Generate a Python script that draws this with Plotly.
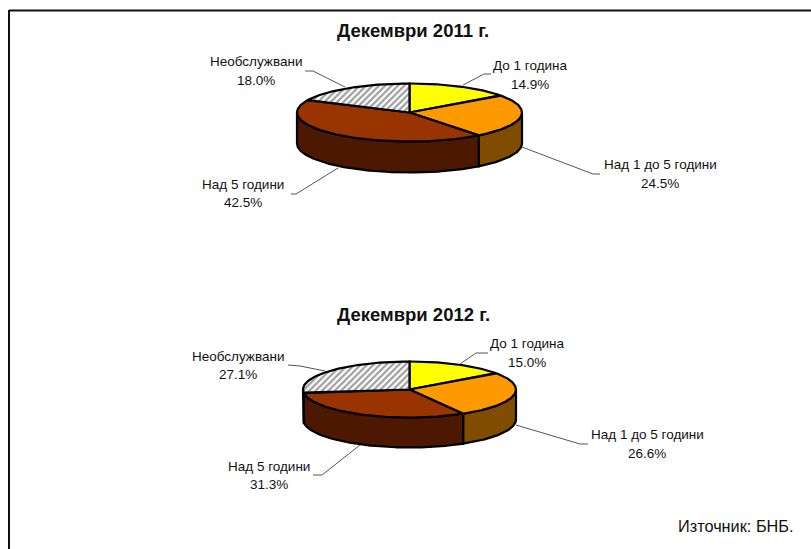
import numpy as np
import plotly.graph_objects as go

categories = ["До 1 година", "Над 1 до 5 години", "Над 5 години", "Необслужвани"]
values_2011 = [14.9, 24.5, 42.5, 18.0]
values_2012 = [15.0, 26.6, 31.3, 27.1]
titles = ["Декември 2011 г.", "Декември 2012 г."]
source_text = "Източник: БНБ."

top_colors = ["#FFFF00", "#FF9900", "#993300", "#FFFFFF"]
side_colors = ["#7F7F00", "#7F4C00", "#4C1900", "#4C1900"]

FONT = "Liberation Sans"
TEXT = "#111111"

# pie geometry: centre x, centre y, x radius, y radius, depth (chart pixels)
pies = [
    dict(vals=values_2011, cx=409.5, cy=112.5, rx=112.5, ry=29, d=31),
    dict(vals=values_2012, cx=409.5, cy=389.5, rx=106.5, ry=28, d=30),
]
# label centres per pie, per category: x, name y, percent y
label_pos = [
    [(530, 65, 84), (660, 164, 183), (243, 184, 202), (255.5, 61, 80)],
    [(527, 343, 362), (647, 434, 453), (269, 466, 484), (238, 356, 374)],
]
leaders = [
    [[(491, 74), (484, 74), (463, 85)],
     [(522, 147), (593, 174), (600, 174)],
     [(338, 168), (296, 194), (291, 194)],
     [(305, 71), (313, 71), (345, 87)]],
    [[(488, 353), (476, 353), (460, 364)],
     [(516, 425), (580, 444), (588, 444)],
     [(360, 445), (322, 475), (313, 475)],
     [(288, 365), (300, 366), (325, 371)]],
]


def arc(p, t0, t1, dy=0.0):
    n = max(2, int(abs(t1 - t0) * 1.5) + 2)
    t = np.radians(np.linspace(t0, t1, n))
    return p["cx"] + p["rx"] * np.sin(t), p["cy"] - p["ry"] * np.cos(t) + dy


fig = go.Figure()


def poly(x, y, fill, pattern=None):
    fig.add_trace(go.Scatter(
        x=list(x), y=list(y), mode="lines", fill="toself", fillcolor=fill,
        fillpattern=pattern, line=dict(color="black", width=2.2),
        hoverinfo="skip", showlegend=False))


hatch = dict(shape="/", fgcolor="#404040", bgcolor="#FFFFFF", size=4.5, solidity=0.5)

for pi, p in enumerate(pies):
    edges = np.concatenate([[0], np.cumsum(p["vals"])]) / sum(p["vals"]) * 360
    # side walls (only the front half of the cylinder shows)
    for i in range(len(categories)):
        a, b = max(edges[i], 90), min(edges[i + 1], 270)
        if b > a:
            x0, y0 = arc(p, a, b)
            x1, y1 = arc(p, b, a, p["d"])
            poly(np.r_[x0, x1, x0[0]], np.r_[y0, y1, y0[0]], side_colors[i])
    # top faces
    for i in range(len(categories)):
        x, y = arc(p, edges[i], edges[i + 1])
        pat = hatch if i == 3 else None
        poly(np.r_[p["cx"], x, p["cx"]], np.r_[p["cy"], y, p["cy"]], top_colors[i], pat)
    # leader lines
    for seg in leaders[pi]:
        fig.add_trace(go.Scatter(
            x=[s[0] for s in seg], y=[s[1] for s in seg], mode="lines",
            line=dict(color="#555555", width=1), hoverinfo="skip", showlegend=False))

ann = []
for pi, p in enumerate(pies):
    for i, cat in enumerate(categories):
        lx, ny, py = label_pos[pi][i]
        ann.append(dict(x=lx, y=ny, text=cat, showarrow=False, xanchor="center", yanchor="middle",
                        font=dict(family=FONT, size=13.5, color=TEXT)))
        ann.append(dict(x=lx, y=py, text=f"{p['vals'][i]:.1f}%", showarrow=False, xanchor="center",
                        yanchor="middle", font=dict(family=FONT, size=13.5, color=TEXT)))
for t, ty in zip(titles, (30, 314)):
    ann.append(dict(x=413, y=ty, text=f"<b>{t}</b>", showarrow=False, xanchor="center", yanchor="middle",
                    font=dict(family=FONT, size=18.5, color=TEXT)))
ann.append(dict(x=736, y=526, text=source_text, showarrow=False, xanchor="center", yanchor="middle",
                font=dict(family=FONT, size=16.3, color=TEXT)))

fig.update_layout(
    width=811, height=549, autosize=False,
    margin=dict(l=0, r=0, t=0, b=0),
    paper_bgcolor="white", plot_bgcolor="white",
    xaxis=dict(range=[0, 811], visible=False, fixedrange=True),
    yaxis=dict(range=[549, 0], visible=False, fixedrange=True),
    annotations=ann,
    shapes=[
        dict(type="line", xref="x", yref="y", x0=9, y0=10.5, x1=811, y1=10.5, line=dict(color="#111111", width=2)),
        dict(type="line", xref="x", yref="y", x0=9, y0=10, x1=9, y1=549, line=dict(color="#111111", width=2)),
    ],
)
fig.write_html("out.html", config=dict(displayModeBar=False),
               post_script="document.body.style.margin='0';")
